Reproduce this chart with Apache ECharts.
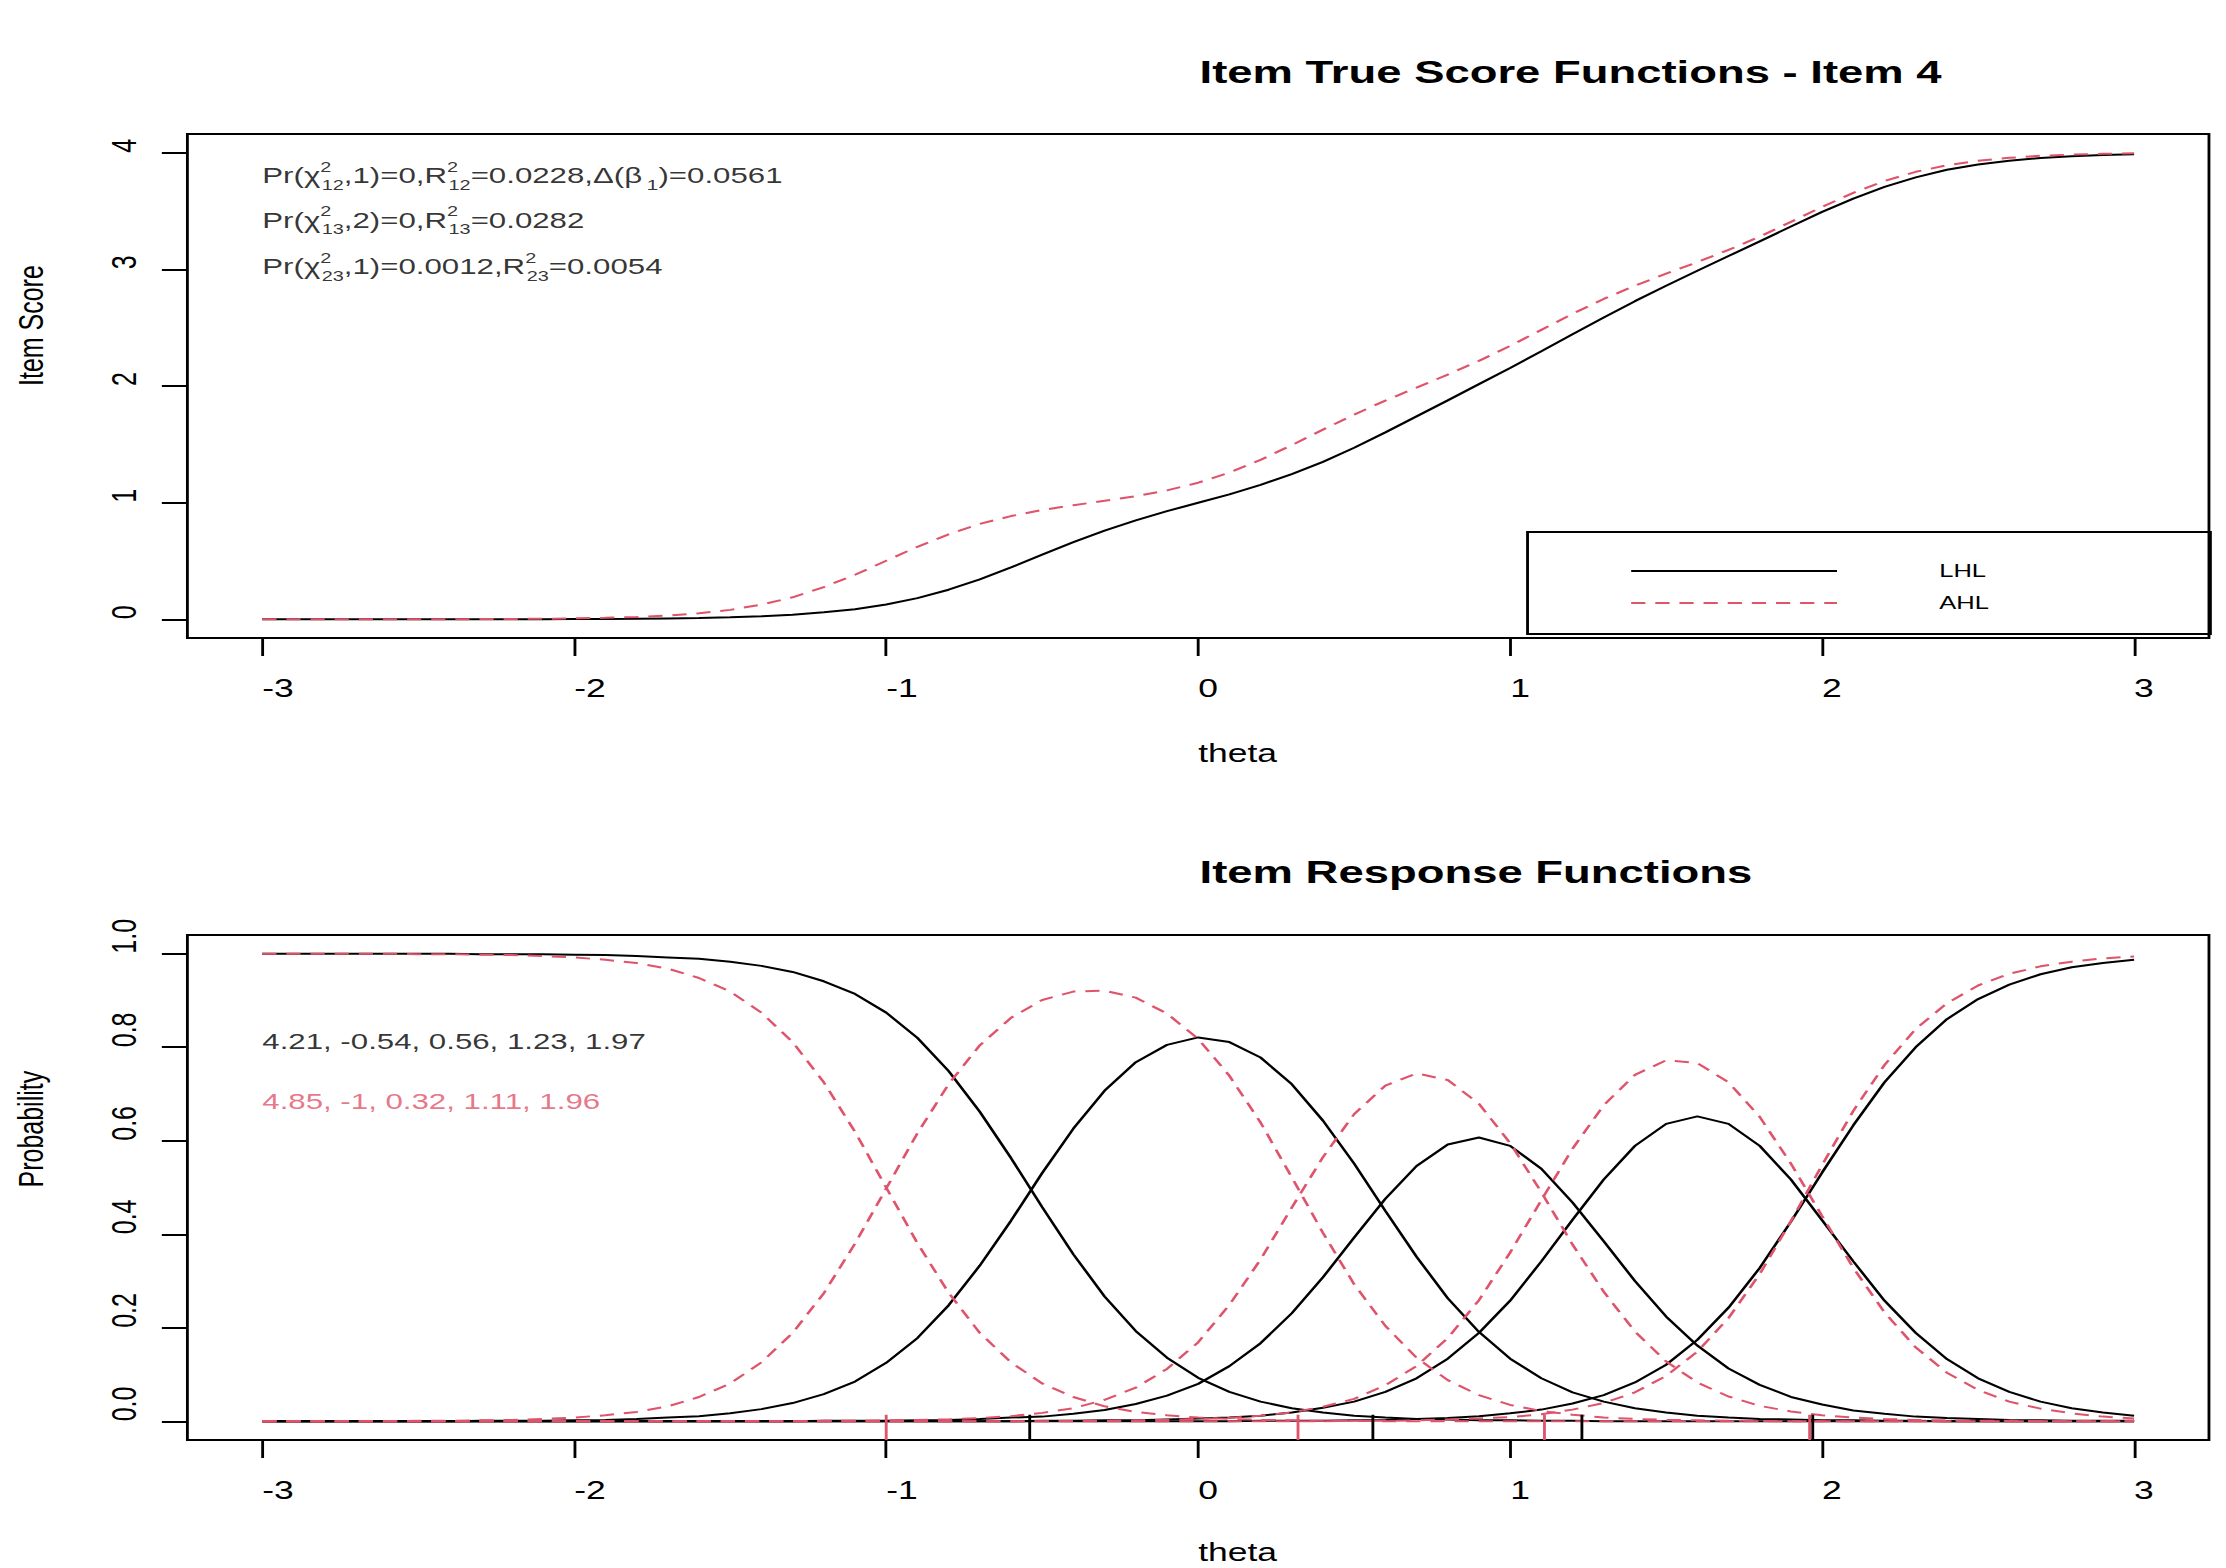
<!DOCTYPE html>
<html><head><meta charset="utf-8">
<script src="https://cdn.jsdelivr.net/npm/echarts@6/dist/echarts.min.js"></script>
<style>
html,body{margin:0;padding:0;background:#fff;overflow:hidden;width:2226px;height:1568px;}
#chart{position:absolute;left:0;top:0;width:1568px;height:1568px;transform:scaleX(1.419643);transform-origin:0 0;}
</style></head><body><div id="chart"></div>
<script>
// ---------------- data ----------------
const theta = [-3.0,-2.9,-2.8,-2.7,-2.6,-2.5,-2.4,-2.3,-2.2,-2.1,-2.0,-1.9,-1.8,-1.7,-1.6,-1.5,-1.4,-1.3,-1.2,-1.1,-1.0,-0.9,-0.8,-0.7,-0.6,-0.5,-0.4,-0.3,-0.2,-0.1,0.0,0.1,0.2,0.3,0.4,0.5,0.6,0.7,0.8,0.9,1.0,1.1,1.2,1.3,1.4,1.5,1.6,1.7,1.8,1.9,2.0,2.1,2.2,2.3,2.4,2.5,2.6,2.7,2.8,2.9,3.0];

const trueScoreLHL = [0,0,0,0,0,0,0,
  0.001,0.001,0.001,0.002,0.003,0.005,0.008,0.011,0.017,0.026,
  0.039,0.060,0.087,0.127,0.182,0.254,0.343,0.445,0.554,0.661,
  0.761,0.848,0.927,0.999,1.071,1.152,1.245,1.350,1.471,1.603,
  1.740,1.877,2.016,2.154,2.298,2.443,2.587,2.727,2.859,2.988,
  3.114,3.240,3.367,3.492,3.606,3.707,3.788,3.853,3.898,3.931,
  3.954,3.970,3.979,3.986];
const trueScoreAHL = [0,0,0,0,0,
  0.001,0.001,0.002,0.003,0.005,0.008,0.013,0.020,0.032,0.052,
  0.081,0.126,0.189,0.276,0.382,0.502,0.622,0.729,0.818,0.885,
  0.937,0.978,1.016,1.056,1.105,1.171,1.258,1.367,1.493,1.626,
  1.755,1.875,1.986,2.098,2.215,2.344,2.481,2.619,2.746,2.860,
  2.963,3.062,3.166,3.280,3.407,3.535,3.656,3.757,3.836,3.892,
  3.931,3.956,3.973,3.983,3.990,3.994];

const lhlP0 = [1,1,1,1,1,1,1,
  0.999,0.999,0.999,0.998,0.997,0.995,0.992,0.989,0.983,0.974,
  0.961,0.941,0.914,0.874,0.820,0.749,0.662,0.563,0.458,0.357,
  0.267,0.193,0.136,0.093,0.063,0.042,0.028,0.019,0.012,0.008,
  0.005,0.004,0.002,0.002,0.001,0.001,
  0,0,0,0,0,0,0,0,0,0,0,0,0,0,0,0,0,0];
const lhlP1 = [0,0,0,0,0,0,0,
  0.001,0.001,0.001,0.002,0.003,0.005,0.008,0.011,0.017,0.026,
  0.039,0.058,0.085,0.125,0.178,0.248,0.333,0.429,0.531,0.626,
  0.707,0.768,0.805,0.821,0.811,0.778,0.721,0.643,0.551,0.450,
  0.352,0.263,0.191,0.134,0.092,0.062,0.042,0.028,0.019,0.012,
  0.008,0.005,0.004,0.002,0.002,0.001,0.001,
  0,0,0,0,0,0,0];
const lhlP2 = [0,0,0,0,0,0,0,0,0,0,0,0,0,0,0,0,0,0,
  0.001,0.001,0.001,0.002,0.003,0.005,0.008,0.010,0.016,0.024,
  0.037,0.055,0.080,0.118,0.167,0.231,0.308,0.393,0.476,0.546,
  0.592,0.607,0.589,0.540,0.468,0.385,0.300,0.224,0.162,0.113,
  0.078,0.052,0.036,0.023,0.016,0.010,0.007,0.005,0.003,0.002,
  0.001,0.001,0.001];
const lhlP3 = [0,0,0,0,0,0,0,0,0,0,0,0,0,0,0,0,0,0,0,0,0,0,0,0,0,
  0.001,0.001,0.002,0.002,0.004,0.006,0.008,0.012,0.019,0.029,
  0.042,0.063,0.092,0.134,0.189,0.258,0.342,0.431,0.517,0.589,
  0.636,0.652,0.636,0.589,0.517,0.430,0.342,0.258,0.189,0.133,
  0.092,0.063,0.042,0.028,0.019,0.012];
const lhlP4 = [0,0,0,0,0,0,0,0,0,0,0,0,0,0,0,0,0,0,0,0,0,0,0,0,0,0,0,0,0,0,0,0,
  0.001,0.001,0.001,0.002,0.003,0.005,0.007,0.011,0.017,0.025,
  0.038,0.056,0.083,0.121,0.174,0.243,0.328,0.427,0.532,0.633,
  0.725,0.800,0.860,0.903,0.934,0.956,0.971,0.980,0.987];

const ahlP0 = [1,1,1,1,1,
  0.999,0.999,0.998,0.997,0.995,0.992,0.987,0.980,0.968,0.948,
  0.919,0.874,0.811,0.725,0.619,0.500,0.381,0.275,0.189,0.126,
  0.081,0.052,0.032,0.020,0.013,0.008,0.005,0.003,0.002,0.001,
  0.001,
  0,0,0,0,0,0,0,0,0,0,0,0,0,0,0,0,0,0,0,0,0,0,0,0,0];
const ahlP1 = [0,0,0,0,0,
  0.001,0.001,0.002,0.003,0.005,0.008,0.013,0.020,0.032,0.052,
  0.081,0.126,0.189,0.274,0.380,0.498,0.616,0.721,0.804,0.863,
  0.901,0.919,0.921,0.906,0.872,0.818,0.739,0.639,0.522,0.403,
  0.293,0.204,0.136,0.088,0.056,0.035,0.022,0.014,0.008,0.005,
  0.003,0.002,0.001,0.001,
  0,0,0,0,0,0,0,0,0,0,0,0];
const ahlP2 = [0,0,0,0,0,0,0,0,0,0,0,0,0,0,0,0,0,0,
  0.001,0.001,0.002,0.003,0.004,0.007,0.011,0.018,0.028,0.046,
  0.072,0.112,0.169,0.249,0.346,0.457,0.565,0.657,0.718,0.744,
  0.730,0.679,0.595,0.490,0.378,0.277,0.192,0.128,0.083,0.053,
  0.033,0.021,0.013,0.008,0.005,0.003,0.002,0.001,0.001,
  0,0,0,0];
const ahlP3 = [0,0,0,0,0,0,0,0,0,0,0,0,0,0,0,0,0,0,0,0,0,0,0,0,0,0,
  0.001,0.001,0.002,0.003,0.005,0.007,0.012,0.019,0.031,0.048,
  0.077,0.118,0.178,0.259,0.361,0.473,0.583,0.676,0.741,0.772,
  0.766,0.725,0.651,0.551,0.439,0.328,0.233,0.158,0.104,0.067,
  0.042,0.027,0.017,0.010,0.006];
const ahlP4 = [0,0,0,0,0,0,0,0,0,0,0,0,0,0,0,0,0,0,0,0,0,0,0,0,0,0,0,0,0,0,0,0,0,0,0,
  0.001,0.001,0.002,0.004,0.006,0.009,0.015,0.025,0.039,0.062,
  0.097,0.149,0.221,0.315,0.428,0.548,0.664,0.762,0.839,0.894,
  0.932,0.957,0.973,0.983,0.990,0.994];

// item parameters (slope, thresholds) as printed in the chart
const paramsLHL = [4.21, -0.54, 0.56, 1.23, 1.97];
const paramsAHL = [4.85, -1, 0.32, 1.11, 1.96];
const thresholdsLHL = [-0.54, 0.56, 1.23, 1.97];
const thresholdsAHL = [-1, 0.32, 1.11, 1.96];

// tick labels
const xTicks = [-3, -2, -1, 0, 1, 2, 3];
const yTicksScore = [0, 1, 2, 3, 4];
const yTicksProb = [0, 0.2, 0.4, 0.6, 0.8, 1.0];

// ---------------- chart ----------------
const FONT = "'Liberation Sans', Arial, Helvetica, sans-serif";
const RED = '#DF536B';
const BLACK = '#000000';
const zip = (xs, ys) => xs.map((x, i) => [x, ys[i]]);

const chart = echarts.init(document.getElementById('chart'), null, {renderer: 'svg', width: 1568, height: 1568});

function xAxisDef(gi, nameGap) {
  return {
    gridIndex: gi, type: 'value', min: -3.24, max: 3.24, position: 'bottom',
    splitLine: {show: false}, axisLine: {show: false, onZero: false},
    axisTick: {show: true, length: 18, customValues: xTicks, lineStyle: {color: BLACK, width: 2}},
    axisLabel: {customValues: xTicks, align: 'left', margin: 38, fontSize: 25, color: BLACK, fontFamily: FONT},
    name: 'theta', nameLocation: 'middle', nameGap: nameGap,
    nameTextStyle: {fontSize: 25, color: BLACK, fontFamily: FONT, align: 'left', verticalAlign: 'top'}
  };
}
function yAxisDef(gi, min, max, ticks, name, fmt) {
  return {
    gridIndex: gi, type: 'value', min: min, max: max, position: 'left',
    splitLine: {show: false}, axisLine: {show: false, onZero: false},
    axisTick: {show: true, length: 18, customValues: ticks, lineStyle: {color: BLACK, width: 2}},
    axisLabel: {customValues: ticks, rotate: 90, align: 'left', verticalAlign: 'bottom', margin: 32,
      fontSize: 25, color: BLACK, fontFamily: FONT, formatter: fmt},
    name: name, nameLocation: 'middle', nameGap: 98, nameRotate: 90,
    nameTextStyle: {fontSize: 25, color: BLACK, fontFamily: FONT, align: 'left', verticalAlign: 'bottom'}
  };
}
function lineSeries(name, gi, ys, color, dashed, z) {
  return {
    name: name, type: 'line', xAxisIndex: gi, yAxisIndex: gi,
    data: zip(theta, ys), symbol: 'none', showSymbol: false, silent: true, z: z,
    lineStyle: {color: color, width: 2, type: dashed ? [10, 7] : 'solid'},
    itemStyle: {color: color}
  };
}
function rugSeries(vals, color) {
  return {
    type: 'custom', xAxisIndex: 1, yAxisIndex: 1, silent: true, z: 5,
    data: vals.map(v => [v, 0]),
    renderItem: (params, api) => {
      const x = api.value(0);
      const p1 = api.coord([x, -0.04]);
      const p2 = api.coord([x, 0.014]);
      return {type: 'line', shape: {x1: p1[0], y1: p1[1], x2: p2[0], y2: p2[1]},
        style: {stroke: color, lineWidth: 2}};
    }
  };
}

const rich = {
  t: {fontSize: 22, lineHeight: 32, fontFamily: FONT, color: BLACK},
  sup: {fontSize: 14, lineHeight: 14, fontFamily: FONT, color: BLACK, verticalAlign: 'top', width: 1},
  sub: {fontSize: 14, lineHeight: 14, fontFamily: FONT, color: BLACK, verticalAlign: 'bottom'},
  sb: {fontSize: 15, lineHeight: 20, fontFamily: FONT, color: BLACK, verticalAlign: 'bottom', padding: [0, 0, 0, 3]}
};
const annot1 = '{t|Pr(χ}{sup|2}{sub|12}{t|,1)=0,R}{sup|2}{sub|12}{t|=0.0228,Δ(β}{sb|1}{t|)=0.0561}';
const annot2 = '{t|Pr(χ}{sup|2}{sub|13}{t|,2)=0,R}{sup|2}{sub|13}{t|=0.0282}';
const annot3 = '{t|Pr(χ}{sup|2}{sub|23}{t|,1)=0.0012,R}{sup|2}{sub|23}{t|=0.0054}';

const option = {
  animation: false,
  backgroundColor: '#ffffff',
  title: [
    {text: 'Item True Score Functions - Item 4', left: 845, top: 56, padding: 0,
      textStyle: {fontSize: 32, fontWeight: 'bold', color: BLACK, fontFamily: FONT}},
    {text: 'Item Response Functions', left: 845, top: 856, padding: 0,
      textStyle: {fontSize: 32, fontWeight: 'bold', color: BLACK, fontFamily: FONT}}
  ],
  legend: {
    data: ['LHL', 'AHL'], orient: 'vertical', left: 1076, top: 532,
    itemWidth: 145, itemHeight: 20, itemGap: 14,
    padding: [30, 156, 22, 72], borderColor: BLACK, borderWidth: 2, borderRadius: 0,
    selectedMode: false,
    itemStyle: {opacity: 0, borderWidth: 0},
    textStyle: {fontSize: 18, color: BLACK, fontFamily: FONT, padding: [4, 0, 0, 67]}
  },
  grid: [
    {left: 132, top: 134, width: 1424, height: 504, show: true, borderColor: BLACK, borderWidth: 2, backgroundColor: 'transparent', outerBoundsMode: 'none', containLabel: false},
    {left: 132, top: 935, width: 1424, height: 505, show: true, borderColor: BLACK, borderWidth: 2, backgroundColor: 'transparent', outerBoundsMode: 'none', containLabel: false}
  ],
  xAxis: [xAxisDef(0, 103), xAxisDef(1, 100)],
  yAxis: [
    yAxisDef(0, -0.16, 4.16, yTicksScore, 'Item Score', v => String(v)),
    yAxisDef(1, -0.04, 1.04, yTicksProb, 'Probability', v => v.toFixed(1))
  ],
  series: [
    lineSeries('LHL', 0, trueScoreLHL, BLACK, false, 2),
    lineSeries('AHL', 0, trueScoreAHL, RED, true, 3),
    {
      type: 'scatter', xAxisIndex: 0, yAxisIndex: 0, symbolSize: 0, silent: true, z: 6,
      label: {show: true, position: 'right', distance: 0, rich: rich},
      data: [
        {value: [-3, 3.80], label: {formatter: annot1}},
        {value: [-3, 3.42], label: {formatter: annot2}},
        {value: [-3, 3.02], label: {formatter: annot3}}
      ]
    },
    lineSeries('LHL', 1, lhlP0, BLACK, false, 2),
    lineSeries('LHL', 1, lhlP1, BLACK, false, 2),
    lineSeries('LHL', 1, lhlP2, BLACK, false, 2),
    lineSeries('LHL', 1, lhlP3, BLACK, false, 2),
    lineSeries('LHL', 1, lhlP4, BLACK, false, 2),
    lineSeries('AHL', 1, ahlP0, RED, true, 3),
    lineSeries('AHL', 1, ahlP1, RED, true, 3),
    lineSeries('AHL', 1, ahlP2, RED, true, 3),
    lineSeries('AHL', 1, ahlP3, RED, true, 3),
    lineSeries('AHL', 1, ahlP4, RED, true, 3),
    rugSeries(thresholdsAHL, RED),
    rugSeries(thresholdsLHL, BLACK),
    {
      type: 'scatter', xAxisIndex: 1, yAxisIndex: 1, symbolSize: 0, silent: true, z: 6,
      label: {show: true, position: 'right', distance: 0, fontSize: 22, fontFamily: FONT},
      data: [
        {value: [-3, 0.811], label: {formatter: paramsLHL.join(', '), color: BLACK}},
        {value: [-3, 0.684], label: {formatter: paramsAHL.join(', '), color: RED}}
      ]
    }
  ]
};
chart.setOption(option);
</script></body></html>
